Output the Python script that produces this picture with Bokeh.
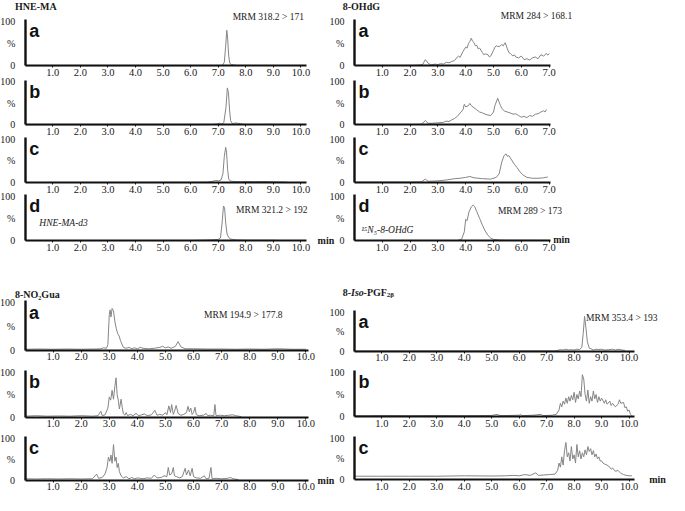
from bokeh.plotting import figure
from bokeh.models import Range1d, LinearAxis, FixedTicker, PrintfTickFormatter, Label
from bokeh.embed import file_html
from bokeh.resources import INLINE

# ---------------- data (retention time [min], relative intensity [%]) ----------------
hne_a_t = [0.0, 1.0, 2.0, 3.0, 4.0, 5.0, 6.0, 7.0, 7.15, 7.22, 7.27, 7.31, 7.34, 7.38, 7.42, 7.48, 7.55, 7.65, 7.75]
hne_a_i = [0.3, 0.3, 0.3, 0.3, 0.3, 0.3, 0.4, 0.5, 1.0, 8, 45, 80, 62, 22, 6, 3, 2, 1, 0.5]
hne_b_t = [0.0, 2.0, 4.0, 6.0, 6.8, 6.95, 7.05, 7.12, 7.2, 7.28, 7.33, 7.37, 7.41, 7.45, 7.5, 7.56, 7.62, 7.7, 7.8, 7.9, 8.1, 8.5, 8.9, 9.2]
hne_b_i = [0.3, 0.3, 0.3, 0.4, 1, 2, 4, 2, 5, 40, 86, 75, 35, 10, 4, 3, 5, 4, 3, 1.5, 1, 1, 1.5, 0.5]
hne_c_t = [0.0, 2.0, 4.0, 6.0, 6.6, 6.8, 6.9, 7.0, 7.1, 7.17, 7.22, 7.27, 7.3, 7.34, 7.38, 7.43, 7.5, 7.6, 7.8, 8.0, 8.3, 8.6, 8.9, 9.2, 9.5]
hne_c_i = [0.3, 0.3, 0.4, 0.5, 1, 3, 5, 4, 6, 20, 60, 81, 70, 30, 8, 4, 3, 2.5, 2, 2.5, 2, 2.5, 2, 1.5, 1]
hne_d_t = [0.0, 2.0, 4.0, 6.0, 6.6, 6.8, 7.0, 7.08, 7.14, 7.19, 7.23, 7.27, 7.32, 7.38, 7.45, 7.55, 7.7, 8.0, 8.5, 9.0, 9.2]
hne_d_i = [0.2, 0.2, 0.3, 0.4, 1.5, 2, 3, 6, 40, 78, 74, 40, 15, 7, 4, 2.5, 1.5, 1, 1, 1, 0.5]

ohdg_a_t = [0.0, 0.5, 1.0, 1.5, 2.0, 2.3, 2.45, 2.55, 2.65, 2.75, 2.9, 3.0, 3.1, 3.2, 3.3, 3.4, 3.5, 3.6, 3.7, 3.75,
            3.8, 3.9, 4.0, 4.05, 4.1, 4.15, 4.2, 4.25, 4.3, 4.35, 4.4, 4.45, 4.5, 4.6, 4.65, 4.7, 4.8, 4.85, 4.9, 5.0,
            5.05, 5.1, 5.2, 5.3, 5.35, 5.42, 5.5, 5.55, 5.6, 5.7, 5.75, 5.8, 5.9, 6.0, 6.1, 6.2, 6.3, 6.4, 6.5, 6.6,
            6.7, 6.8, 6.9, 6.95, 7.0]
ohdg_a_i = [1, 1, 1, 1, 1, 1.5, 3, 14, 6, 2, 4, 3, 5, 4, 8, 7, 10, 12, 20, 22,
            19, 32, 42, 40, 50, 55, 62, 55, 52, 45, 46, 38, 40, 30, 25, 27, 25, 20, 22, 35,
            42, 45, 43, 48, 45, 52, 38, 30, 28, 22, 25, 20, 18, 22, 14, 16, 13, 18, 20, 16,
            25, 22, 28, 24, 28]
ohdg_b_t = [0.0, 0.5, 1.0, 1.5, 2.0, 2.4, 2.55, 2.65, 2.8, 3.0, 3.2, 3.3, 3.4, 3.5, 3.6, 3.7, 3.8, 3.9, 3.95, 4.0,
            4.1, 4.15, 4.2, 4.3, 4.4, 4.5, 4.6, 4.7, 4.8, 4.9, 5.0, 5.05, 5.15, 5.25, 5.3, 5.4, 5.5, 5.6, 5.7, 5.8,
            5.9, 6.0, 6.1, 6.2, 6.3, 6.4, 6.5, 6.6, 6.7, 6.8, 6.85, 6.9]
ohdg_b_i = [1, 1, 1, 1, 1, 1.5, 10, 4, 4, 5, 6, 9, 8, 12, 15, 20, 28, 35, 48, 42,
            45, 50, 45, 40, 35, 30, 28, 25, 23, 22, 30, 45, 62, 45, 38, 32, 30, 28, 25, 26,
            22, 18, 20, 17, 22, 20, 25, 26, 30, 33, 30, 36]
ohdg_c_t = [0.0, 0.5, 1.0, 1.5, 2.0, 2.4, 2.55, 2.65, 3.0, 3.3, 3.6, 3.8, 4.0, 4.15, 4.3, 4.6, 4.9, 5.1, 5.2, 5.3,
            5.38, 5.45, 5.5, 5.55, 5.65, 5.75, 5.85, 5.95, 6.05, 6.2, 6.4, 6.6, 6.8, 6.95]
ohdg_c_i = [1, 1, 1, 1, 1, 1.5, 8, 3, 4, 6, 9, 10, 12, 14, 11, 9, 8, 12, 20, 48,
            62, 66, 60, 62, 52, 42, 34, 25, 18, 12, 10, 10, 11, 13]
ohdg_d_t = [0.0, 1.0, 2.0, 3.0, 3.7, 3.85, 3.95, 4.0, 4.05, 4.12, 4.2, 4.27, 4.32, 4.4, 4.5, 4.6, 4.7, 4.8, 4.9, 5.0,
            5.2, 5.5, 6.0, 6.5, 7.0]
ohdg_d_i = [0.5, 0.5, 0.5, 0.5, 0.5, 3, 20, 48, 45, 65, 76, 80, 77, 65, 50, 35, 22, 12, 6, 3,
            1.5, 1, 1, 1, 0.8]

no2_a_t = [0.0, 0.5, 1.0, 1.5, 2.0, 2.5, 2.7, 2.8, 2.9, 2.95, 3.0, 3.03, 3.06, 3.1, 3.15, 3.2, 3.25, 3.3, 3.35, 3.4,
           3.5, 3.6, 3.7, 3.8, 3.9, 4.0, 4.1, 4.2, 4.4, 4.6, 4.8, 4.9, 5.0, 5.1, 5.2, 5.35, 5.45, 5.55, 5.7, 6.0,
           6.5, 7.0, 7.5, 8.0, 8.5, 9.0, 9.5, 10.0]
no2_a_i = [2, 2.5, 2, 2.5, 2, 2.5, 3, 5, 4, 12, 75, 85, 70, 88, 83, 60, 45, 35, 30, 20,
           6, 4, 6, 3, 5, 3, 6, 4, 3, 4, 6, 8, 5, 7, 4, 8, 18, 7, 3, 3,
           2.5, 2.5, 2, 2.5, 2, 3, 2, 2]
no2_b_t = [0.0, 0.4, 0.8, 1.2, 1.6, 2.0, 2.4, 2.6, 2.7, 2.75, 2.85, 2.95, 3.0, 3.05, 3.1, 3.15, 3.2, 3.24, 3.28, 3.32,
           3.36, 3.42, 3.46, 3.5, 3.55, 3.6, 3.65, 3.75, 3.85, 3.95, 4.05, 4.15, 4.25, 4.35, 4.5, 4.62, 4.7, 4.8, 4.9, 5.0,
           5.05, 5.12, 5.18, 5.22, 5.28, 5.32, 5.38, 5.45, 5.55, 5.65, 5.75, 5.8, 5.85, 5.9, 5.95, 6.0, 6.05, 6.1, 6.2, 6.35,
           6.45, 6.5, 6.6, 6.72, 6.76, 6.8, 6.95, 7.1, 7.25, 7.4, 7.5, 7.6, 7.7]
no2_b_i = [2, 3, 2, 2.5, 2, 3, 2, 3, 13, 3, 5, 20, 45, 38, 60, 40, 70, 88, 50, 38,
           18, 40, 22, 8, 4, 10, 3, 6, 3, 8, 3, 5, 7, 3, 5, 15, 4, 6, 4, 10,
           5, 25, 10, 28, 6, 12, 26, 8, 4, 6, 10, 24, 12, 20, 6, 10, 22, 5, 3, 4,
           8, 3, 4, 3, 28, 3, 4, 3, 4, 5, 3, 2, 1]
no2_c_t = [0.0, 0.4, 0.8, 1.2, 1.6, 2.0, 2.4, 2.55, 2.62, 2.75, 2.85, 2.92, 2.97, 3.02, 3.06, 3.1, 3.15, 3.2, 3.24, 3.28,
           3.32, 3.36, 3.42, 3.5, 3.6, 3.7, 3.8, 3.9, 4.0, 4.1, 4.2, 4.35, 4.5, 4.6, 4.7, 4.85, 4.95, 5.05, 5.1, 5.15,
           5.22, 5.28, 5.32, 5.4, 5.5, 5.6, 5.7, 5.75, 5.82, 5.88, 5.95, 6.0, 6.1, 6.25, 6.38, 6.45, 6.55, 6.62, 6.66, 6.8,
           7.0, 7.2, 7.32, 7.4, 7.6]
no2_c_i = [3, 2.5, 3, 2.5, 3, 2.5, 3, 14, 4, 6, 15, 30, 55, 45, 60, 40, 85, 45, 55, 30,
           40, 20, 10, 5, 8, 3, 6, 3, 5, 4, 3, 5, 4, 12, 5, 6, 10, 8, 30, 12,
           15, 30, 10, 8, 5, 8, 28, 12, 24, 10, 28, 8, 5, 4, 10, 3, 4, 30, 3, 4,
           3, 4, 6, 3, 1]

iso_a_t = [0.0, 2.0, 4.0, 6.0, 7.3, 7.4, 7.5, 7.6, 7.7, 7.8, 7.9, 8.0, 8.1, 8.2, 8.28, 8.33, 8.38, 8.43, 8.48, 8.55,
           8.65, 8.7, 8.8, 8.9, 9.0, 9.1, 9.3, 9.4, 9.5, 9.6, 9.75, 9.85]
iso_a_i = [0.5, 0.5, 0.5, 0.5, 0.5, 2, 4, 3, 5, 3, 4, 3, 5, 4, 10, 45, 90, 60, 25, 8,
           5, 3, 5, 4, 5, 3, 4, 5, 3, 5, 3, 2]
iso_b_t = [0.0, 0.5, 1.0, 2.0, 3.0, 4.0, 5.0, 5.2, 5.3, 6.0, 6.05, 6.1, 6.5, 6.8, 6.85, 7.2, 7.35, 7.45, 7.5, 7.55,
           7.6, 7.65, 7.7, 7.75, 7.8, 7.85, 7.9, 7.95, 8.0, 8.05, 8.1, 8.15, 8.2, 8.25, 8.3, 8.35, 8.4, 8.45, 8.5, 8.55,
           8.6, 8.65, 8.7, 8.75, 8.8, 8.85, 8.9, 8.95, 9.0, 9.1, 9.15, 9.2, 9.3, 9.35, 9.4, 9.5, 9.6, 9.65, 9.7, 9.8,
           9.85, 9.9, 9.95, 10.0, 10.05, 10.1]
iso_b_i = [2, 2, 2.5, 2, 2.5, 2, 2.5, 5, 2, 3, 5, 2, 3, 5, 2, 3, 5, 15, 30, 22,
           35, 28, 42, 30, 45, 35, 48, 38, 55, 32, 50, 40, 58, 45, 95, 85, 50, 35, 60, 30,
           45, 35, 58, 40, 50, 32, 45, 35, 42, 30, 38, 28, 35, 25, 30, 22, 28, 38, 30, 32,
           20, 22, 12, 15, 5, 2]
iso_c_t = [0.0, 1.0, 2.0, 3.0, 4.0, 5.0, 5.5, 5.8, 6.0, 6.2, 6.4, 6.6, 6.7, 6.9, 7.1, 7.3, 7.4, 7.45, 7.5, 7.55,
           7.6, 7.65, 7.7, 7.75, 7.8, 7.85, 7.9, 7.95, 8.0, 8.05, 8.1, 8.15, 8.2, 8.25, 8.3, 8.35, 8.4, 8.45, 8.5, 8.55,
           8.6, 8.65, 8.7, 8.75, 8.8, 8.85, 8.9, 8.95, 9.0, 9.05, 9.1, 9.2, 9.3, 9.35, 9.4, 9.5, 9.6, 9.7, 9.8, 9.9,
           10.0, 10.1]
iso_c_i = [8, 8, 8, 8, 9, 8.5, 9, 10, 9, 12, 10, 16, 10, 11, 12, 13, 22, 40, 30, 55,
           35, 70, 90, 55, 65, 45, 80, 50, 60, 40, 85, 55, 70, 50, 65, 55, 72, 60, 80, 68,
           75, 60, 70, 55, 62, 50, 55, 45, 45, 40, 38, 35, 30, 25, 28, 20, 22, 15, 12, 10,
           9, 9]

ticks10 = [1, 2, 3, 4, 5, 6, 7, 8, 9, 10]
ticks7 = [1, 2, 3, 4, 5, 6, 7]
pct_ticks = [0, 50, 100]
pct_labels = {0: "0", 50: "%", 100: "100"}

# ---------------- layout (positions expressed in reference-picture pixels) ----------------
X0, X1 = -5, 685      # horizontal extent of the reference picture shown on the canvas
Y0, Y1 = 0, 511
W, H = 669, 495
SERIF = "Times New Roman"
SANS = "Liberation Sans"
LINE_COLOR = "#858585"
TXT = "#1a1a1a"

p = figure(width=W, height=H, x_range=Range1d(X0, X1), y_range=Range1d(Y1, Y0),
           x_axis_type=None, y_axis_type=None, toolbar_location=None,
           output_backend="svg", min_border=0, outline_line_color=None)
p.background_fill_color = "white"
p.border_fill_color = "white"


def panel(name, t, inten, px0, ppu, py100, py0, xmax, xticks, letter):
    xr, yr = name + "_x", name + "_y"
    k = (py0 - py100) / 100.0
    p.extra_x_ranges[xr] = Range1d((X0 - px0) / ppu, (X1 - px0) / ppu)
    p.extra_y_ranges[yr] = Range1d((py0 - Y1) / k, (py0 - Y0) / k)
    p.line(t, inten, x_range_name=xr, y_range_name=yr, line_color=LINE_COLOR, line_width=1)
    yax = LinearAxis(x_range_name=xr, y_range_name=yr, fixed_location=0, bounds=(0, 104),
                     ticker=FixedTicker(ticks=pct_ticks), major_label_overrides=pct_labels,
                     major_tick_line_color=None, minor_tick_line_color=None,
                     axis_line_width=2.4, axis_line_color="#111111",
                     major_label_standoff=4, major_label_text_font=SERIF,
                     major_label_text_font_size="10px", major_label_text_color=TXT)
    p.add_layout(yax, "left")
    xax = LinearAxis(x_range_name=xr, y_range_name=yr, fixed_location=0, bounds=(0, xmax),
                     ticker=FixedTicker(ticks=xticks), formatter=PrintfTickFormatter(format="%.1f"),
                     major_tick_in=0, major_tick_out=2, major_tick_line_color="#111111",
                     minor_tick_line_color=None, axis_line_width=1.8, axis_line_color="#111111",
                     major_label_standoff=1, major_label_text_font=SERIF,
                     major_label_text_font_size="10.5px", major_label_text_color=TXT)
    p.add_layout(xax, "below")
    p.add_layout(Label(x=0, y=100, x_offset=4, text=letter, x_range_name=xr, y_range_name=yr,
                       text_font=SANS, text_font_style="bold", text_font_size="18px",
                       text_baseline="top", text_align="left", text_color="#111111"))


# HNE-MA (top left)
panel("hne_a", hne_a_t, hne_a_i, 20.5, 28.44, 21.5, 67.5, 10.2, ticks10, "a")
panel("hne_b", hne_b_t, hne_b_i, 20.5, 28.44, 84.0, 128.5, 10.2, ticks10, "b")
panel("hne_c", hne_c_t, hne_c_i, 20.5, 28.44, 143.0, 188.0, 10.2, ticks10, "c")
panel("hne_d", hne_d_t, hne_d_i, 20.5, 28.44, 202.0, 248.0, 10.2, ticks10, "d")
# 8-OHdG (top right)
panel("ohdg_a", ohdg_a_t, ohdg_a_i, 360.0, 28.7, 21.5, 67.5, 7.05, ticks7, "a")
panel("ohdg_b", ohdg_b_t, ohdg_b_i, 360.0, 28.7, 84.0, 128.5, 7.05, ticks7, "b")
panel("ohdg_c", ohdg_c_t, ohdg_c_i, 360.0, 28.7, 143.0, 188.0, 7.05, ticks7, "c")
panel("ohdg_d", ohdg_d_t, ohdg_d_i, 360.0, 28.7, 202.0, 248.0, 7.05, ticks7, "d")
# 8-NO2Gua (bottom left)
panel("no2_a", no2_a_t, no2_a_i, 20.3, 28.97, 312.0, 361.0, 10.1, ticks10, "a")
panel("no2_b", no2_b_t, no2_b_i, 20.3, 28.97, 384.0, 430.0, 10.1, ticks10, "b")
panel("no2_c", no2_c_t, no2_c_i, 20.3, 28.97, 452.0, 495.0, 10.1, ticks10, "c")
# 8-Iso-PGF2b (bottom right)
panel("iso_a", iso_a_t, iso_a_i, 360.0, 28.33, 322.0, 362.0, 10.2, ticks10, "a")
panel("iso_b", iso_b_t, iso_b_i, 360.0, 28.33, 384.0, 429.5, 10.2, ticks10, "b")
panel("iso_c", iso_c_t, iso_c_i, 360.0, 28.33, 452.0, 494.5, 10.2, ticks10, "c")


def txt(x, y, s, size="9.5px", style="normal", align="left", font=SERIF):
    p.add_layout(Label(x=x, y=y, text=s, text_font=font, text_font_size=size,
                       text_font_style=style, text_align=align, text_baseline="middle",
                       text_color=TXT))


# group titles
txt(10, 6, "HNE-MA", "10px", "bold")
txt(348, 6, "8-OHdG", "10px", "bold")
txt(10, 303, "8-NO₂Gua", "10px", "bold")
txt(348, 301, "8-", "10px", "bold")
txt(356.5, 301, "Iso", "10px", "bold italic")
txt(369.5, 301, "-PGF", "10px", "bold")
txt(393.5, 304, "2β", "7px", "bold")

# transition / internal-standard annotations
txt(308, 17, "MRM 318.2 > 171", align="right")
txt(238, 216, "MRM 321.2 > 192")
txt(35, 230, "HNE-MA-d3", style="italic")
txt(511, 16, "MRM 284 > 168.1")
txt(508, 217, "MRM 289 > 173")
txt(367, 237, "¹⁵N₅-8-OHdG", style="italic")
txt(205, 325, "MRM 194.9 > 177.8")
txt(599, 328, "MRM 353.4 > 193")

# axis unit
txt(322, 248, "min", "10px", "bold")
txt(565, 247, "min", "10px", "bold")
txt(322, 495, "min", "10px", "bold")
txt(664, 494, "min", "10px", "bold")

open("out.html", "w").write(file_html(p, INLINE))
